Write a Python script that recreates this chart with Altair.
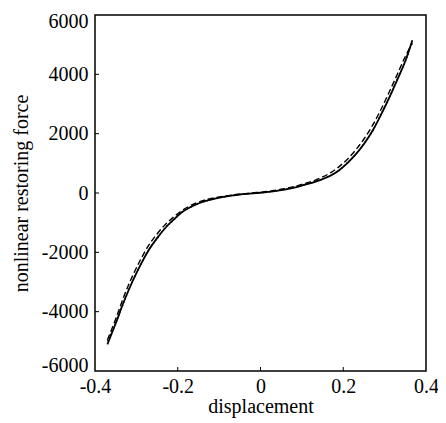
import altair as alt
import pandas as pd

# displacement samples
x_vals = [-0.37, -0.35, -0.33, -0.31, -0.29, -0.27, -0.25, -0.23, -0.21, -0.19,
          -0.17, -0.15, -0.13, -0.11, -0.09, -0.07, -0.05, -0.03, -0.01, 0.01,
          0.03, 0.05, 0.07, 0.09, 0.11, 0.13, 0.15, 0.17, 0.19, 0.21,
          0.23, 0.25, 0.27, 0.29, 0.31, 0.33, 0.35, 0.367]

# nonlinear restoring force: reference (solid), estimate 1 (dashed), estimate 2 (dotted)
solid_vals = [-5100, -4400, -3650, -3000, -2420, -1920, -1520, -1180, -900, -650,
              -480, -355, -260, -190, -130, -85, -50, -25, 0, 20,
              55, 100, 150, 210, 290, 370, 470, 590, 770, 1010,
              1300, 1650, 2080, 2600, 3180, 3800, 4450, 5150]
dashed_vals = [-4950, -4250, -3480, -2820, -2250, -1760, -1380, -1060, -810, -590,
               -430, -310, -220, -160, -110, -70, -40, -15, 15, 40,
               75, 125, 180, 250, 330, 420, 540, 690, 890, 1140,
               1450, 1820, 2260, 2780, 3370, 3980, 4600, 5050]
dotted_vals = [-5000, -4380, -3680, -2980, -2440, -1900, -1540, -1160, -920, -640,
               -490, -345, -270, -180, -140, -80, -55, -20, -5, 25,
               50, 105, 145, 220, 285, 380, 465, 600, 760, 1030,
               1290, 1670, 2060, 2640, 3170, 3830, 4420, 5100]

x_ticks = [-0.4, -0.2, 0, 0.2, 0.4]
y_ticks = [-6000, -4000, -2000, 0, 2000, 4000, 6000]
x_inner_ticks = [-0.2, 0, 0.2]
y_inner_ticks = [-4000, -2000, 0, 2000, 4000]

FONT = "Liberation Serif"

xscale = alt.Scale(domain=[-0.4, 0.4], nice=False, zero=False)
yscale = alt.Scale(domain=[-6000, 6000], nice=False, zero=False)

xaxis = alt.Axis(
    values=x_ticks, title="displacement", grid=False, ticks=False, tickSize=0,
    domain=False, labelFont=FONT, labelFontSize=20, labelColor="black",
    labelPadding=5, titleFont=FONT, titleFontSize=20, titleFontWeight="normal",
    titleColor="black", titlePadding=0, labelFlush=False,
    labelExpr="datum.value == 0 ? '0' : (datum.value < 0 ? '-' + format(-datum.value, '.1f') : format(datum.value, '.1f'))",
)
yaxis = alt.Axis(
    values=y_ticks, title="nonlinear restoring force", grid=False, ticks=False,
    tickSize=0, domain=False, labelFont=FONT, labelFontSize=20,
    labelColor="black", labelPadding=7, titleFont=FONT, titleFontSize=20,
    titleFontWeight="normal", titleColor="black", titlePadding=10,
    labelFlush=True, labelFlushOffset=4,
    labelExpr="datum.value < 0 ? '-' + format(-datum.value, 'd') : format(datum.value, 'd')",
)

def series(vals):
    return pd.DataFrame({"x": x_vals, "y": vals})

base_x = alt.X("x:Q", scale=xscale, axis=xaxis)
base_y = alt.Y("y:Q", scale=yscale, axis=yaxis)

solid = alt.Chart(series(solid_vals)).mark_line(
    color="black", strokeWidth=1.8, interpolate="monotone"
).encode(x=base_x, y=base_y)

dashed = alt.Chart(series(dashed_vals)).mark_line(
    color="black", strokeWidth=1.4, strokeDash=[6, 3], interpolate="monotone"
).encode(x=alt.X("x:Q", scale=xscale), y=alt.Y("y:Q", scale=yscale))

dotted = alt.Chart(series(dotted_vals)).mark_line(
    color="black", strokeWidth=1.2, strokeDash=[1.5, 2], interpolate="monotone"
).encode(x=alt.X("x:Q", scale=xscale), y=alt.Y("y:Q", scale=yscale))

xt = alt.Chart(pd.DataFrame({"t": x_inner_ticks})).mark_rule(
    color="black", strokeWidth=1
).encode(x=alt.X("t:Q", scale=xscale), y=alt.value(356), y2=alt.value(352))

yt = alt.Chart(pd.DataFrame({"t": y_inner_ticks})).mark_rule(
    color="black", strokeWidth=1
).encode(y=alt.Y("t:Q", scale=yscale), x=alt.value(0), x2=alt.value(4))

chart = alt.layer(solid, dashed, dotted, xt, yt).properties(
    width=331, height=356,
    autosize=alt.AutoSizeParams(type="none"),
    padding={"left": 87, "top": 7, "right": 12, "bottom": 52},
).configure(
    background="white",
    view=alt.ViewConfig(stroke="black", strokeWidth=1.5),
)

chart.save("out.html", embed_options={"renderer": "svg", "actions": False})
